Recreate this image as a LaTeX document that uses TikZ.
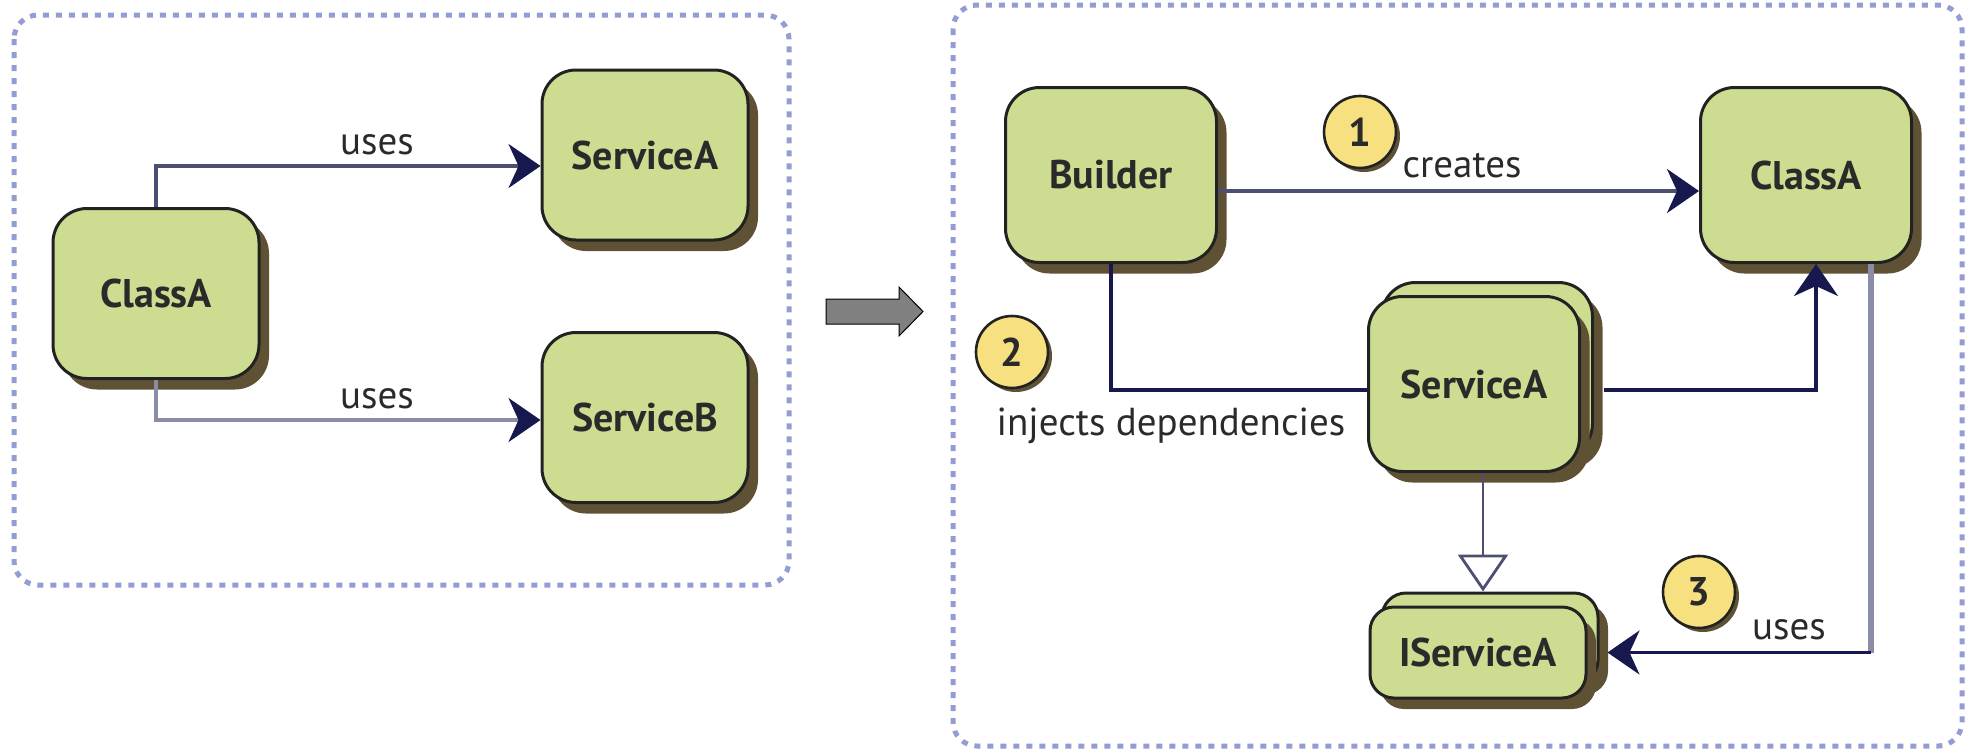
\documentclass[tikz,border=0pt]{standalone}
\usepackage{fontspec}
\setmainfont{PT Sans}
\usetikzlibrary{arrows.meta,calc,shadows}
\definecolor{boxfill}{HTML}{CCDD91}
\definecolor{boxshadow}{HTML}{5F5234}
\definecolor{boxline}{HTML}{222222}
\definecolor{navy}{HTML}{16184E}
\definecolor{greyline}{HTML}{8B8DA8}
\definecolor{midline}{HTML}{4C4E72}
\definecolor{frameblue}{HTML}{929DD3}
\definecolor{badgefill}{HTML}{F7E07F}
\definecolor{textdark}{HTML}{2A2A2A}
\tikzset{
  boxbase/.style={draw=boxline, line width=1.5pt, fill=boxfill, inner sep=0pt,
    text=textdark, font=\bfseries\fontsize{20}{24}\selectfont,
    drop shadow={shadow xshift=5pt, shadow yshift=-5.5pt, fill=boxshadow, opacity=1}},
  lbox/.style={boxbase, rounded corners=17pt, minimum width=103pt, minimum height=85pt},
  rbox/.style={boxbase, rounded corners=17pt, minimum width=105.5pt, minimum height=87.5pt},
  sbox/.style={boxbase, rounded corners=12pt, minimum width=108pt, minimum height=45.5pt},
  badge/.style={circle, draw=boxline, line width=1.3pt, fill=badgefill, inner sep=0pt,
    minimum size=36pt, text=textdark, font=\bfseries\fontsize{20}{24}\selectfont,
    drop shadow={shadow xshift=2pt, shadow yshift=-2pt, fill=boxshadow, opacity=1}},
  lbl/.style={text=textdark, font=\fontsize{19.5}{23}\selectfont, inner sep=0pt, anchor=base},
  frame/.style={frameblue, line width=2.5pt, dash pattern=on 3pt off 3.5pt, rounded corners=12pt},
  tip/.style={-{Stealth[color=navy, length=16pt, width=22pt, inset=5pt]}},
  conn/.style={line width=1.75pt},
}
\begin{document}
\begin{tikzpicture}[x=0.5pt, y=-0.5pt]
\useasboundingbox (0,0) rectangle (1971,751);
% frames
\draw[frame] (14,15) rectangle (789,585);
\draw[frame] (953,5) rectangle (1962,746);
% block arrow
\draw[fill=black!50, draw=black, line width=0.5pt]
  (826,299) -- (899,299) -- (899,287) -- (923,311.5) -- (899,336) -- (899,324) -- (826,324) -- cycle;
% left nodes
\node[lbox] (lcA) at (156,293.5) {ClassA};
\node[lbox] (lsA) at (645,155) {ServiceA};
\node[lbox] (lsB) at (645,417.5) {ServiceB};
\draw[conn, midline, tip] (lcA.north) |- ([yshift=-5.5pt]lsA.west);
\draw[conn, greyline, tip] (lcA.south) |- ([yshift=-1.25pt]lsB.west);
\node[lbl] (u1) at (377,154) {uses};
\node[lbl] (u2) at (377,408) {uses};
% right nodes
\node[rbox] (B) at (1111,175) {Builder};
\node[rbox] (rC) at (1806,175) {ClassA};
\node[rbox] (sAb) at (1487,370) {};
\node[rbox] (sA) at (1474,384) {ServiceA};
\node[sbox] (iSb) at (1490,638.5) {};
\node[sbox] (iS) at (1478,652.5) {IServiceA};
% right connectors
\draw[conn, midline, tip] ([yshift=-8pt]B.east) -- ([yshift=-8pt]rC.west);
\draw[conn, navy] (B.south) |- ([yshift=-3pt]sA.west);
\draw[conn, navy, tip] ([xshift=5pt, yshift=-3pt]sAb.east |- sA.center) -| ([xshift=5pt]rC.south);
\draw[line width=1.4pt, midline, -{Triangle[open, length=18.5pt, width=25pt, color=midline]}]
  ([xshift=4.5pt]sA.south) -- ([xshift=4.5pt]sA.south |- iSb.north);
\coordinate (k3) at ([xshift=32.5pt]rC.south |- iS.center);
\draw[line width=2.6pt, greyline] ([xshift=32.5pt]rC.south) -- (k3);
\draw[conn, navy, tip] (k3) -- ([xshift=4pt]iSb.east |- iS.center);
% badges and labels
\node[badge] (n1) at (1360,132) {1};
\node[badge] (n2) at (1012,352) {2};
\node[badge] (n3) at (1699,592) {3};
\node[lbl] (cr) at (1462,177) {creates};
\node[lbl] (inj) at (1171,435) {injects dependencies};
\node[lbl] (u3) at (1789,639) {uses};
\end{tikzpicture}
\end{document}
